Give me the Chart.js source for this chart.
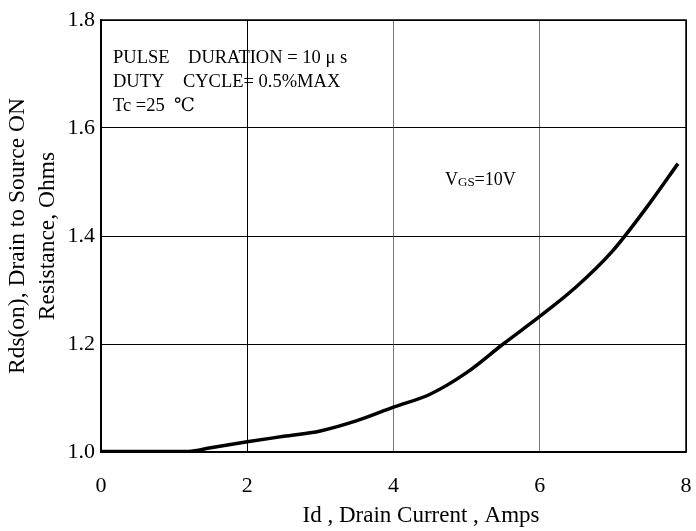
<!DOCTYPE html>
<html>
<head>
<meta charset="utf-8">
<script src="https://cdn.jsdelivr.net/npm/chart.js@4.4.1/dist/chart.umd.min.js"></script>
<style>
  html, body { margin: 0; padding: 0; background: #fff; }
  #wrap { width: 696px; height: 531px; }
</style>
</head>
<body>
<div id="wrap"><canvas id="rdson" width="696" height="531"></canvas></div>
<script>
// Rds(on) vs drain current
const drainCurrent = [0, 0.5, 1.0, 1.2, 1.5, 2, 2.5, 3, 3.5, 4, 4.5, 5, 5.5, 6, 6.5, 7, 7.5, 7.89];
const rdsOn = [1.001, 1.001, 1.001, 1.001, 1.008, 1.019, 1.029, 1.039, 1.058, 1.083, 1.107, 1.147, 1.2, 1.251, 1.306, 1.373, 1.46, 1.534];
const xTicks = [0, 2, 4, 6, 8];
const yTicks = [1.0, 1.2, 1.4, 1.6, 1.8];
const xTitle = 'Id , Drain Current , Amps';
const noteLines = ['PULSE    DURATION = 10 \u03bc s', 'DUTY    CYCLE= 0.5%MAX', 'Tc =25  \u2103'];

const serif = '"Liberation Serif", "DejaVu Serif", serif';

// frame, x title (sits right of centre in the original) and notes inside the plot
const notes = {
  id: 'notes',
  afterDraw(chart) {
    const c = chart.ctx, a = chart.chartArea;
    c.save();
    c.strokeStyle = '#000';
    c.lineWidth = 1.5;
    c.strokeRect(a.left, a.top, a.right - a.left, a.bottom - a.top);
    c.fillStyle = '#000';
    c.textBaseline = 'middle';
    c.textAlign = 'center';
    c.font = '23px ' + serif;
    c.fillText(xTitle, a.left + 320, a.bottom + 64);
    c.textAlign = 'left';
    c.font = '18.5px ' + serif;
    noteLines.forEach((t, i) => c.fillText(t, a.left + 12, a.top + 38 + i * 24));
    // V_GS=10V
    let x = a.left + 344, y = a.top + 160;
    c.font = '18px ' + serif;
    c.fillText('V', x, y);
    x += c.measureText('V').width;
    c.font = '13px ' + serif;
    c.fillText('GS', x, y + 3);
    x += c.measureText('GS').width;
    c.font = '18px ' + serif;
    c.fillText('=10V', x, y);
    c.restore();
  }
};

const ctx = document.getElementById('rdson');

new Chart(ctx, {
  type: 'line',
  data: {
    labels: drainCurrent,
    datasets: [{
      data: drainCurrent.map((x, i) => ({ x: x, y: rdsOn[i] })),
      borderColor: '#000',
      borderWidth: 3.5,
      pointRadius: 0,
      cubicInterpolationMode: 'monotone',
      fill: false
    }]
  },
  options: {
    responsive: false,
    animation: false,
    devicePixelRatio: 1,
    layout: { padding: { top: 20, right: 10, left: 0, bottom: 0 } },
    plugins: { legend: { display: false }, tooltip: { enabled: false } },
    scales: {
      x: {
        type: 'linear',
        min: 0, max: 8,
        afterBuildTicks: s => { s.ticks = xTicks.map(v => ({ value: v })); },
        afterFit: s => { s.height = 79; s.paddingLeft = 0; s.paddingRight = 0; },
        grid: { color: ['#000', '#000', '#777', '#777', '#000'], lineWidth: 1, drawTicks: false },
        border: { color: '#000', width: 1.5 },
        ticks: { padding: 21, color: '#000', font: { family: serif, size: 22 } },
        title: { display: false }
      },
      y: {
        min: 1.0, max: 1.8,
        afterBuildTicks: s => { s.ticks = yTicks.map(v => ({ value: v })); },
        afterFit: s => { s.width = 101; s.paddingTop = 0; s.paddingBottom = 0; },
        grid: { color: '#000', lineWidth: 1, drawTicks: false },
        border: { color: '#000', width: 1.5 },
        ticks: { padding: 6, color: '#000', callback: v => v.toFixed(1), font: { family: serif, size: 22 } },
        title: { display: true, text: ['Rds(on), Drain to Source ON', 'Resistance, Ohms'], color: '#000', padding: { top: 3, bottom: 0 }, font: { family: serif, size: 23.5, lineHeight: 1.28 } }
      }
    }
  },
  plugins: [notes]
});
</script>
</body>
</html>
